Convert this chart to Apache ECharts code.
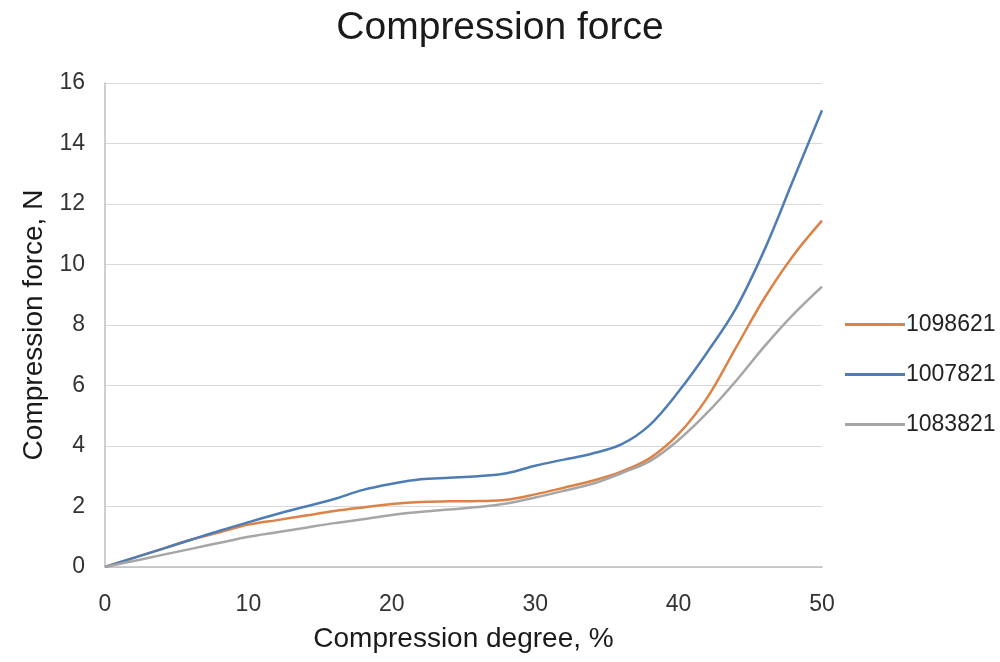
<!DOCTYPE html>
<html>
<head>
<meta charset="utf-8">
<title>Compression force</title>
<script src="https://cdn.jsdelivr.net/npm/echarts@6/dist/echarts.min.js"></script>
<style>
  html, body { margin: 0; padding: 0; background: #fff; }
  #chart { width: 1000px; height: 662px; }
</style>
</head>
<body>
<div id="chart"></div>
<script>
// compression degree, %
const degree = [0, 2, 4, 6, 8, 10, 12, 14, 16, 18, 20, 22, 24, 26, 28, 30, 32, 34, 36, 38, 40, 42, 44, 46, 48, 50];

// force, N
const s1098621 = [0, 0.3, 0.6, 0.9, 1.15, 1.4, 1.55, 1.7, 1.85, 1.97, 2.08, 2.15, 2.17, 2.18, 2.22, 2.4, 2.62, 2.85, 3.15, 3.6, 4.4, 5.6, 7.25, 8.9, 10.3, 11.45];
const s1007821 = [0, 0.3, 0.6, 0.9, 1.2, 1.48, 1.75, 2.0, 2.25, 2.55, 2.75, 2.9, 2.95, 3.0, 3.1, 3.35, 3.55, 3.75, 4.05, 4.7, 5.8, 7.1, 8.55, 10.5, 12.8, 15.1];
const s1083821 = [0, 0.2, 0.4, 0.6, 0.8, 1.0, 1.15, 1.3, 1.45, 1.58, 1.72, 1.82, 1.9, 1.98, 2.1, 2.3, 2.52, 2.75, 3.1, 3.5, 4.2, 5.1, 6.15, 7.3, 8.35, 9.27];

const seriesNames = ['1098621', '1007821', '1083821'];
const seriesColors = ['#DC8247', '#4E7DB5', '#A6A6A6'];

const font = '"Liberation Sans", Arial, sans-serif';

const pairs = (ys) => degree.map((x, i) => [x, ys[i]]);

const chart = echarts.init(document.getElementById('chart'));

const makeLine = (name, ys, color) => ({
  name: name,
  type: 'line',
  data: pairs(ys),
  smooth: 0.35,
  symbol: 'none',
  lineStyle: { color: color, width: 2.5 },
  itemStyle: { color: color },
});

chart.setOption({
  backgroundColor: '#fff',
  animation: false,
  title: {
    text: 'Compression force',
    left: 'center',
    top: 4,
    textStyle: { fontFamily: font, fontSize: 39, fontWeight: 'normal', color: '#1a1a1a' },
  },
  legend: {
    orient: 'vertical',
    left: 840,
    top: 308,
    icon: 'rect',
    itemWidth: 60,
    itemHeight: 3,
    itemGap: 27,
    data: seriesNames,
    textStyle: { fontFamily: font, fontSize: 23, color: '#222', padding: [0, 0, 0, -4] },
  },
  grid: {
    left: 105,
    right: 178,
    top: 83,
    bottom: 95,
  },
  xAxis: {
    type: 'value',
    min: 0,
    max: 50,
    interval: 10,
    name: 'Compression degree, %',
    nameLocation: 'middle',
    nameGap: 58,
    nameTextStyle: { fontFamily: font, fontSize: 28, color: '#1a1a1a' },
    axisLine: { lineStyle: { color: '#bfbfbf', width: 1.5 } },
    axisTick: { show: false },
    splitLine: { show: false },
    axisLabel: { fontFamily: font, fontSize: 23, color: '#333', margin: 26 },
  },
  yAxis: {
    type: 'value',
    min: 0,
    max: 16,
    interval: 2,
    name: 'Compression force, N',
    nameLocation: 'middle',
    nameGap: 57,
    nameTextStyle: { fontFamily: font, fontSize: 28, color: '#1a1a1a' },
    axisLine: { show: true, lineStyle: { color: '#bfbfbf', width: 1.5 } },
    axisTick: { show: false },
    splitLine: { lineStyle: { color: '#d9d9d9', width: 1.2 } },
    axisLabel: { fontFamily: font, fontSize: 23, color: '#333', margin: 20 },
  },
  series: [
    makeLine(seriesNames[0], s1098621, seriesColors[0]),
    makeLine(seriesNames[1], s1007821, seriesColors[1]),
    makeLine(seriesNames[2], s1083821, seriesColors[2]),
  ],
});
</script>
</body>
</html>
